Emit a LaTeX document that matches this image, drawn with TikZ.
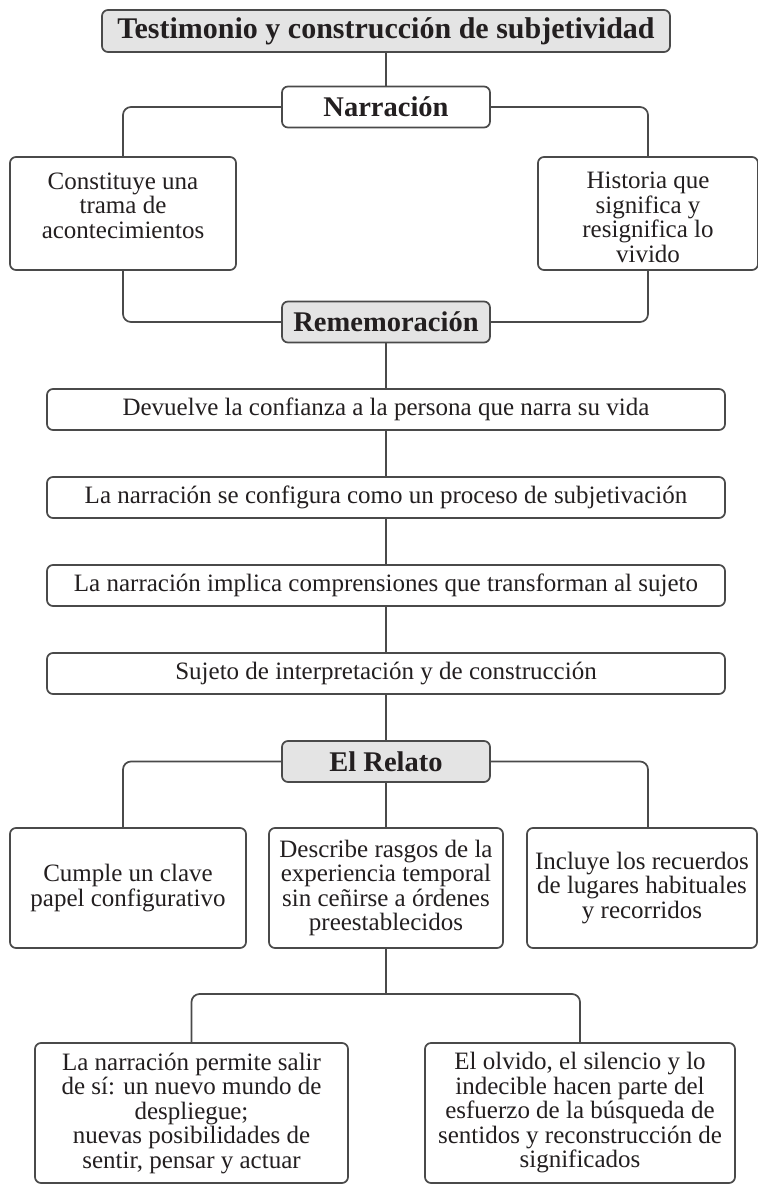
\documentclass[tikz,border=0pt]{standalone}
\usepackage{fontspec}
\setmainfont{Liberation Serif}
\usepackage{xcolor}
\usetikzlibrary{positioning}
\usetikzlibrary{math}
\usetikzlibrary{calc}

\definecolor{linegray}{HTML}{4A4A4A}
\definecolor{headgray}{HTML}{E4E4E4}
\definecolor{inkblack}{HTML}{231F20}

\begin{document}
\begin{tikzpicture}[x=1pt,y=-1pt,
  box/.style={draw=linegray, line width=1.7pt, rounded corners=6pt, fill=white,
    text=inkblack, align=center, inner sep=0pt,
    font=\fontsize{25}{24.5}\selectfont},
  headbox/.style={box, fill=headgray, font=\bfseries\fontsize{28.5}{30}\selectfont},
  textlift/.style 2 args={text height=#1, text depth=#2},
  link/.style={draw=linegray, line width=1.7pt, rounded corners=8pt}]

  \tikzmath{
    \chartx = 386;  % centre line of the chart
    \headw  = 208;  % width of the heading boxes
    \headh  = 41;   % height of the heading boxes
    \longw  = 678;  % width of the long boxes
    \pitch  = 88;   % distance between the long boxes
  }

  \useasboundingbox (0,0) rectangle (758,1184);

  % Heading and first level
  \node[headbox, minimum width=568, minimum height=42, font=\bfseries\fontsize{30}{31}\selectfont] (title) at (\chartx,31)
    {Testimonio y construcción de subjetividad};
  \node[headbox, fill=white, minimum width=\headw, minimum height=\headh] (narr) at (\chartx,107)
    {Narración};

  \node[box, minimum width=226, minimum height=113, textlift={66pt}{17pt}] (trama) at (123,213.5)
    {Constituye una\\trama de\\acontecimientos};
  \node[box, minimum width=220, minimum height=113, textlift={100pt}{3pt}] (historia) at (648,213.5)
    {Historia que\\significa y\\resignifica lo\\vivido};

  \node[headbox, minimum width=\headw, minimum height=\headh] (remem) at (\chartx,322)
    {Rememoración};

  % Long boxes, one under the other
  \node[box, minimum width=\longw, minimum height=41] (confianza) at (\chartx,409.5)
    {Devuelve la confianza a la persona que narra su vida};
  \node[box, minimum width=\longw, minimum height=41] (proceso) at (\chartx,409.5+\pitch)
    {La narración se configura como un proceso de subjetivación};
  \node[box, minimum width=\longw, minimum height=41] (comprension) at (\chartx,409.5+2*\pitch)
    {La narración implica comprensiones que transforman al sujeto};
  \node[box, minimum width=\longw, minimum height=41] (sujeto) at (\chartx,409.5+3*\pitch)
    {Sujeto de interpretación y de construcción};

  \node[headbox, minimum width=\headw, minimum height=\headh] (relato) at (\chartx,761.5)
    {El Relato};

  % Three boxes under El Relato
  \node[box, minimum width=236, minimum height=120] (papel) at (128,888)
    {Cumple un clave\\papel configurativo};
  \node[box, minimum width=234, minimum height=120] (rasgos) at (\chartx,888)
    {Describe rasgos de la\\experiencia temporal\\sin ceñirse a órdenes\\preestablecidos};
  \node[box, minimum width=230, minimum height=120] (lugares) at (642,888)
    {Incluye los recuerdos\\de lugares habituales\\y recorridos};

  % Last level
  \coordinate (split) at (\chartx,994);
  \node[box, minimum width=313, minimum height=140] (salir) at (191.5,1113)
    {La narración permite salir\\de sí: un nuevo mundo de\\despliegue;\\nuevas posibilidades de\\sentir, pensar y actuar};
  \node[box, minimum width=310, minimum height=140] (olvido) at (580,1113)
    {El olvido, el silencio y lo\\indecible hacen parte del\\esfuerzo de la búsqueda de\\sentidos y reconstrucción de\\significados};

  % Connectors
  \draw[link] (title) -- (narr);
  \draw[link] (narr.west) -| (trama.north);
  \draw[link] (narr.east) -| (historia.north);
  \draw[link] (trama.south) |- (remem.west);
  \draw[link] (historia.south) |- (remem.east);
  \draw[link] (remem) -- (confianza);
  \draw[link] (confianza) -- (proceso);
  \draw[link] (proceso) -- (comprension);
  \draw[link] (comprension) -- (sujeto);
  \draw[link] (sujeto) -- (relato);
  \draw[link] (relato.west) -| (papel.north -| trama.south);
  \draw[link] (relato) -- (rasgos);
  \draw[link] (relato.east) -| (lugares.north -| historia.south);
  \draw[link] (rasgos.south) -- (split);
  \draw[link] (split) -| (salir.north);
  \draw[link] (split) -| (olvido.north);

\end{tikzpicture}
\end{document}
